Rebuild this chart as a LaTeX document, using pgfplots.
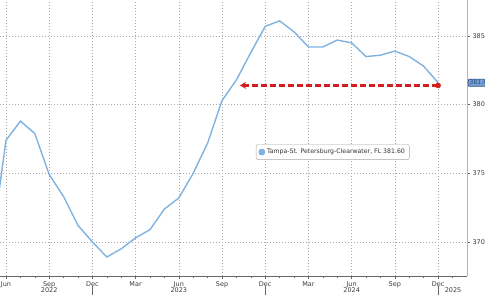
\documentclass[border=0pt]{standalone}
\usepackage{fontspec}
\setmainfont{DejaVu Sans}
\usepackage{pgfplots}
\pgfplotsset{compat=1.18}
\usetikzlibrary{arrows.meta,shapes.symbols}
\definecolor{seriesblue}{RGB}{128,178,224}
\definecolor{arrowred}{RGB}{210,30,30}
\definecolor{gridgray}{RGB}{170,170,170}
\definecolor{ticktext}{RGB}{60,60,60}
\definecolor{tagfill}{RGB}{120,160,215}
\definecolor{tagdraw}{RGB}{40,75,125}
\definecolor{yaxiscol}{RGB}{168,184,200}
\begin{document}
\begin{tikzpicture}[x=1pt,y=1pt]
\begin{axis}[
  name=main,
  at={(0,20)}, anchor=origin,
  scale only axis, width=467pt, height=276pt,
  xmin=-0.417, xmax=32.01, ymin=367.52, ymax=387.62,
  axis x line*=bottom, axis y line*=right,
  x axis line style={draw=gray!80!black, line width=0.6pt},
  y axis line style={draw=yaxiscol, line width=0.6pt},
  xtick={0,3,...,30},
  xticklabels={Jun,Sep,Dec,Mar,Jun,Sep,Dec,Mar,Jun,Sep,Dec},
  minor xtick={1,2,4,5,7,8,10,11,13,14,16,17,19,20,22,23,25,26,28,29,31},
  ytick={370,375,380,385},
  tick align=outside,
  major tick length=3pt, minor tick length=2pt,
  tick style={draw=gray!80!black, line width=0.5pt},
  xmajorgrids, ymajorgrids,
  major grid style={draw=gridgray, line width=0.6pt, dash pattern=on 1pt off 2pt},
  /pgf/number format/assume math mode=true,
  ticklabel style={font=\fontsize{6.5}{7}\selectfont, text=ticktext},
  x tick label style={yshift=1pt},
  y tick label style={xshift=-1pt},
  legend style={at={(0.548,0.449)}, anchor=west, draw=gray!70, rounded corners=2pt,
    font=\fontsize{6.2}{7}\selectfont, inner sep=2.5pt, text=black!80,
    legend cell align=left},
  legend image code/.code={\fill[seriesblue] (0pt,-2.5pt) rectangle (5pt,2.5pt);},
]
\addplot[color=seriesblue, line width=1.4pt] coordinates {
(-1,369.7) (0,377.4) (1,378.8) (2,377.9) (3,374.9) (4,373.3) (5,371.2) (6,370.0)
(7,368.9) (8,369.5) (9,370.3) (10,370.9) (11,372.4) (12,373.2) (13,375.0) (14,377.2)
(15,380.3) (16,381.8) (17,383.8) (18,385.7) (19,386.1) (20,385.3) (21,384.2) (22,384.2)
(23,384.7) (24,384.5) (25,383.5) (26,383.6) (27,383.9) (28,383.5) (29,382.8) (30,381.6)
};
\addlegendentry{Tampa-St. Petersburg-Clearwater, FL 381.60}
\addplot[color=arrowred, line width=2.2pt, dash pattern=on 6pt off 3pt,
  -{Stealth[length=6pt,width=7pt]}, forget plot] coordinates {(30,381.4) (16.25,381.4)};
\addplot[only marks, mark=*, mark size=2.6pt, color=arrowred, forget plot] coordinates {(30,381.4)};
\coordinate (tag) at (axis cs:32.01,381.6);
\coordinate (y22) at (axis cs:3,367.52);
\coordinate (y23) at (axis cs:12,367.52);
\coordinate (y24) at (axis cs:24,367.52);
\coordinate (y25) at (axis cs:31.04,367.52);
\coordinate (s1) at (axis cs:6,367.52);
\coordinate (s2) at (axis cs:18,367.52);
\coordinate (s3) at (axis cs:30,367.52);
\coordinate (sw) at (rel axis cs:0,0);
\end{axis}
\foreach \c/\t in {y22/2022,y23/2023,y24/2024,y25/2025}
  \node[font=\fontsize{6.5}{7}\selectfont, text=ticktext] at ([yshift=-14pt]\c) {\t};
\foreach \c in {s1,s2,s3}
  \draw[gray!80!black, line width=0.5pt] ([yshift=-10pt]\c) -- ([yshift=-19.5pt]\c);
\node[signal, signal to=west, signal pointer angle=150, fill=tagfill, draw=tagdraw,
  line width=0.6pt, inner xsep=0.6pt, inner ysep=1.2pt, anchor=west, font=\fontsize{6.3}{7}\selectfont,
  text=tagdraw] at ([xshift=0.5pt]tag) {381.6};
\pgfresetboundingbox
\path[use as bounding box] ([yshift=-20pt]sw) rectangle ++(485,296);
\end{tikzpicture}
\end{document}
